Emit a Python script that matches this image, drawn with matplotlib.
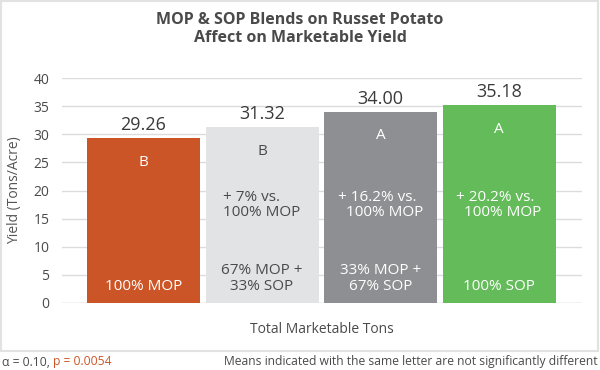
import numpy as np
import matplotlib
matplotlib.use("Agg")
import matplotlib.pyplot as plt
from matplotlib.patches import Rectangle

# data
treatments = ["100% MOP", "67% MOP +\n33% SOP", "33% MOP +\n67% SOP", "100% SOP"]
yields = [29.26, 31.32, 34.00, 35.18]
letters = ["B", "B", "A", "A"]
gains = ["", "+ 7% vs.\n100% MOP", "+ 16.2% vs.\n  100% MOP", "+ 20.2% vs.\n  100% MOP"]
yticks = [0, 5, 10, 15, 20, 25, 30, 35, 40]

bar_cols = ["#cc5527", "#e2e3e4", "#8e8f92", "#64bb5a"]
inner_cols = ["white", "#4a4a4a", "white", "white"]
dark = "#4a4a4a"
orange = "#cc5527"

plt.rcParams["font.family"] = ["Open Sans", "DejaVu Sans"]

fig = plt.figure(figsize=(6, 3.7), dpi=100)
fig.patch.set_facecolor("white")

# light frame around chart area
fig.patches.append(Rectangle((1 / 600, 19 / 370), 597 / 600, 350 / 370,
                             transform=fig.transFigure, fill=False,
                             edgecolor="#e2e2e2", linewidth=1.5))

ax = fig.add_axes([62 / 600, 67 / 370, 520 / 600, 225 / 370])
x = np.arange(len(yields))
ax.bar(x, yields, width=0.954, color=bar_cols, zorder=2)
ax.set_xlim(-0.688, 3.70)
ax.set_ylim(0, 40)
ax.set_yticks(yticks)
ax.set_xticks([])
ax.grid(axis="y", color="#dcdcdc", linewidth=1, zorder=0)
for s in ax.spines.values():
    s.set_visible(False)
ax.axhline(0, color="#dcdcdc", linewidth=1, zorder=1)
ax.tick_params(axis="y", length=0, pad=9, labelsize=10, labelcolor=dark)
ax.set_ylabel("Yield (Tons/Acre)", fontsize=10, color="#555555", labelpad=8)
ax.set_xlabel("Total Marketable Tons", fontsize=10, color=dark, labelpad=14)

for i, v in enumerate(yields):
    ax.annotate(f"{v:.2f}", (x[i], v), xytext=(0, 3), textcoords="offset points",
                ha="center", va="bottom", fontsize=13, color="#3a3a3a")
    ax.text(x[i], v - 4.3, letters[i], ha="center", va="center",
            fontsize=11, color=inner_cols[i])
    if gains[i]:
        ax.text(x[i], 17.4, gains[i], ha="center", va="center",
                fontsize=11, color=inner_cols[i], multialignment="left",
                linespacing=1.05)
    ax.text(x[i], 1.6, treatments[i], ha="center", va="bottom",
            fontsize=11, color=inner_cols[i], linespacing=1.05)

fig.text(0.5, 0.921, "MOP & SOP Blends on Russet Potato\nAffect on Marketable Yield",
         ha="center", va="center", fontsize=11.5, fontweight="bold", color=dark,
         linespacing=1.2)

t1 = fig.text(2 / 600, 8 / 370, "\u03b1 = 0.10, ", ha="left", va="center",
              fontsize=8.7, color=dark)
fig.canvas.draw()
bb = t1.get_window_extent()
fig.text(bb.x1 / 600, 8 / 370, "p = 0.0054", ha="left", va="center",
         fontsize=8.7, color=orange)
fig.text(598 / 600, 8 / 370,
         "Means indicated with the same letter are not significantly different",
         ha="right", va="center", fontsize=8.7, color=dark)

fig.savefig("out.png", dpi=100)
